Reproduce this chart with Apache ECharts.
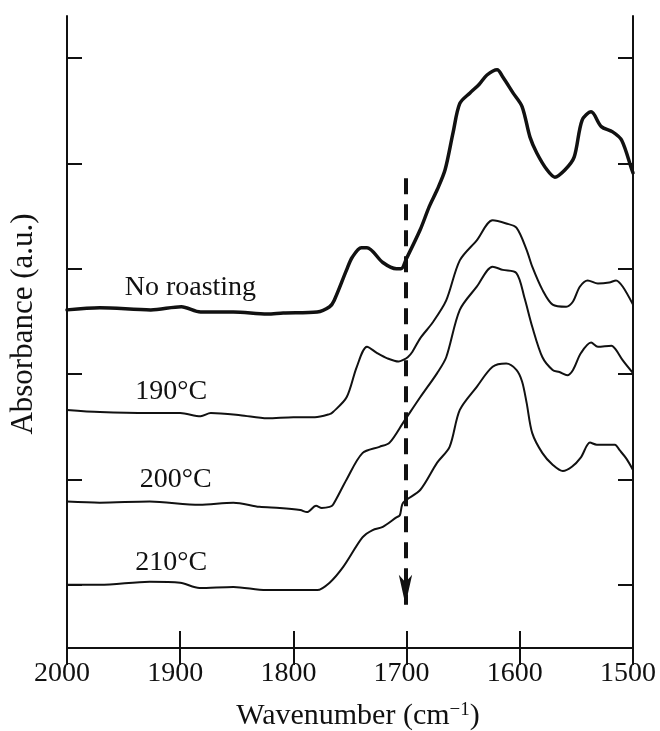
<!DOCTYPE html>
<html>
<head>
<meta charset="utf-8">
<script src="https://cdn.jsdelivr.net/npm/echarts@6/dist/echarts.min.js"></script>
<style>
  html, body { margin: 0; padding: 0; background: #fff; }
  #chart { width: 660px; height: 731px; }
</style>
</head>
<body>
<div id="chart"></div>
<script>
// spectra (wavenumber, absorbance offset in a.u.)
var noRoastWn = [2000,1971,1926,1899,1882,1853,1823,1809,1779,1768,1764,1753,1748,1740,1735,1721,1709,1705,1700,1688,1680,1673,1666,1659,1653,1644,1636,1629,1620,1615,1606,1598,1591,1585,1576,1569,1560,1552,1545,1537,1528,1518,1510,1501,1500];
var noRoastAbs = [3.21,3.23,3.21,3.24,3.19,3.19,3.17,3.18,3.19,3.24,3.30,3.59,3.71,3.80,3.80,3.66,3.60,3.60,3.70,3.97,4.19,4.35,4.54,4.89,5.17,5.27,5.35,5.44,5.49,5.42,5.27,5.14,4.85,4.70,4.54,4.47,4.54,4.66,5.01,5.09,4.95,4.90,4.82,4.54,4.51];

var t190Wn = [2000,1971,1927,1900,1882,1873,1847,1823,1800,1781,1768,1765,1753,1744,1735,1726,1717,1707,1703,1699,1695,1688,1677,1665,1653,1638,1624,1612,1603,1594,1589,1580,1571,1559,1553,1547,1540,1531,1521,1515,1509,1500];
var t190Abs = [2.26,2.24,2.23,2.23,2.20,2.23,2.21,2.18,2.19,2.19,2.22,2.24,2.38,2.67,2.86,2.80,2.75,2.72,2.735,2.76,2.81,2.94,3.09,3.30,3.68,3.87,4.06,4.03,3.99,3.78,3.62,3.40,3.26,3.24,3.29,3.43,3.49,3.46,3.47,3.49,3.43,3.26];

var t200Wn = [2000,1971,1927,1883,1853,1830,1812,1794,1788,1780,1775,1768,1765,1753,1739,1724,1715,1703,1688,1673,1665,1653,1638,1624,1615,1603,1596,1589,1580,1571,1565,1558,1553,1546,1537,1531,1519,1515,1509,1500];
var t200Abs = [1.39,1.38,1.39,1.36,1.38,1.34,1.33,1.31,1.29,1.35,1.33,1.34,1.36,1.60,1.85,1.91,1.95,2.14,2.38,2.61,2.76,3.21,3.43,3.62,3.59,3.56,3.33,3.05,2.76,2.64,2.62,2.59,2.64,2.80,2.90,2.86,2.87,2.83,2.73,2.61];

var t210Wn = [2000,1971,1927,1900,1883,1853,1824,1794,1779,1768,1756,1739,1730,1721,1709,1706,1703,1688,1673,1662,1653,1638,1624,1612,1603,1598,1594,1589,1580,1571,1562,1554,1546,1538,1532,1516,1512,1506,1500];
var t210Abs = [0.60,0.60,0.63,0.62,0.57,0.58,0.55,0.55,0.55,0.62,0.77,1.05,1.12,1.15,1.24,1.26,1.38,1.50,1.76,1.91,2.26,2.48,2.67,2.70,2.64,2.53,2.33,2.04,1.85,1.74,1.68,1.72,1.81,1.95,1.93,1.93,1.88,1.80,1.69];

// curve labels
var labelText = ['No roasting', '190°C', '200°C', '210°C'];
var labelWn = [1891, 1908, 1904, 1908];
var labelAbs = [3.42, 2.43, 1.60, 0.81];

// x ticks, y tick positions (no labels on y)
var xTicks = [2000, 1900, 1800, 1700, 1600, 1500];
var yTicks = [0.6, 1.6, 2.6, 3.6, 4.6, 5.6];

// dashed arrow at 1700 cm-1
var arrowWn = 1701;
var arrowFrom = 4.46;
var arrowTo = 0.41;

var FONT = '"Liberation Serif", "DejaVu Serif", serif';
var INK = '#111';

function zip(xs, ys) {
  var out = [];
  for (var i = 0; i < xs.length; i++) {
    out.push([xs[i], ys[i]]);
  }
  return out;
}

var chart = echarts.init(document.getElementById('chart'), null, { renderer: 'canvas' });

var axisLineStyle = { lineStyle: { color: INK, width: 2 } };
var xTickStyle = { inside: true, length: 17, lineStyle: { color: INK, width: 2 } };
var yTickStyle = { inside: true, length: 15, customValues: yTicks, lineStyle: { color: INK, width: 2 } };

var labelData = [];
for (var i = 0; i < labelText.length; i++) {
  labelData.push({ value: [labelWn[i], labelAbs[i]], name: labelText[i] });
}

function spectrum(name, wn, abs, width) {
  return {
    name: name,
    type: 'line',
    xAxisIndex: 0,
    yAxisIndex: 0,
    showSymbol: false,
    symbol: 'none',
    smooth: 0.3,
    silent: true,
    animation: false,
    lineStyle: { color: INK, width: width, join: 'round', cap: 'round' },
    data: zip(wn, abs)
  };
}

var option = {
  animation: false,
  grid: { left: 67, right: 27, top: 16, bottom: 83, outerBoundsMode: 'none' },
  xAxis: [{
    type: 'value',
    min: 1500,
    max: 2000,
    interval: 100,
    inverse: true,
    position: 'bottom',
    axisLine: axisLineStyle,
    axisTick: xTickStyle,
    splitLine: { show: false },
    axisLabel: {
      fontFamily: FONT,
      fontSize: 28,
      color: INK,
      margin: 12,
      padding: [0, 10, 0, 0],
      customValues: xTicks,
      formatter: function (value) {
        return String(value);
      }
    },
    name: 'Wavenumber (cm{sup|−1})',
    nameLocation: 'middle',
    nameGap: 53,
    nameTextStyle: {
      fontFamily: FONT,
      fontSize: 30,
      color: INK,
      padding: [0, 0, 0, 16],
      rich: {
        sup: { fontFamily: FONT, fontSize: 19, color: INK, verticalAlign: 'top', padding: [0, 0, 12, 0] }
      }
    }
  }, {
    type: 'value',
    min: 1500,
    max: 2000,
    interval: 100,
    inverse: true,
    position: 'top',
    axisLine: axisLineStyle,
    axisTick: xTickStyle,
    axisLabel: { show: false },
    splitLine: { show: false }
  }],
  yAxis: [{
    type: 'value',
    min: 0,
    max: 6,
    position: 'left',
    axisLine: { show: true, lineStyle: { color: INK, width: 2 } },
    axisTick: yTickStyle,
    axisLabel: { show: false },
    splitLine: { show: false },
    name: 'Absorbance (a.u.)',
    nameLocation: 'middle',
    nameRotate: 90,
    nameGap: 28,
    nameTextStyle: { fontFamily: FONT, fontSize: 31, color: INK, padding: [0, 0, 0, 16] }
  }, {
    type: 'value',
    min: 0,
    max: 6,
    position: 'right',
    axisLine: { show: true, lineStyle: { color: INK, width: 2 } },
    axisTick: yTickStyle,
    axisLabel: { show: false },
    splitLine: { show: false }
  }],
  series: [
    spectrum('No roasting', noRoastWn, noRoastAbs, 3.5),
    spectrum('190°C', t190Wn, t190Abs, 2),
    spectrum('200°C', t200Wn, t200Abs, 2),
    spectrum('210°C', t210Wn, t210Abs, 2),
    {
      name: 'labels',
      type: 'scatter',
      symbolSize: 0,
      silent: true,
      label: {
        show: true,
        position: 'inside',
        formatter: '{b}',
        fontFamily: FONT,
        fontSize: 28,
        color: INK,
        opacity: 1
      },
      data: labelData
    },
    {
      name: 'arrow',
      type: 'line',
      data: [],
      markLine: {
        silent: true,
        animation: false,
        symbol: ['none', 'arrow'],
        symbolSize: [10, 30],
        label: { show: false },
        lineStyle: { color: INK, width: 4, type: [16, 10], opacity: 1 },
        data: [[{ coord: [arrowWn, arrowFrom] }, { coord: [arrowWn, arrowTo] }]]
      }
    }
  ]
};

chart.setOption(option);
</script>
</body>
</html>
